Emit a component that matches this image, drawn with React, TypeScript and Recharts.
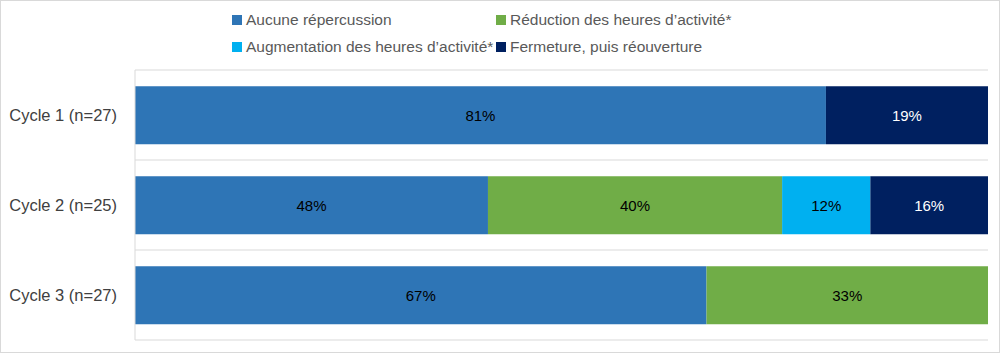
import { BarChart, Bar, XAxis, YAxis, CartesianGrid, LabelList } from 'recharts'

const cycles = ['Cycle 1 (n=27)', 'Cycle 2 (n=25)', 'Cycle 3 (n=27)']
const aucune = [81, 48, 67]
const reduction = [0, 40, 33]
const augmentation = [0, 12, 0]
const fermeture = [19, 16, 0]

const SERIES = [
  { key: 'aucune', name: 'Aucune répercussion', color: '#2E75B6', text: '#000000' },
  { key: 'reduction', name: 'Réduction des heures d’activité*', color: '#70AD47', text: '#000000' },
  { key: 'augmentation', name: 'Augmentation des heures d’activité*', color: '#00B0F0', text: '#000000' },
  { key: 'fermeture', name: 'Fermeture, puis réouverture', color: '#002060', text: '#ffffff' },
]

const data = cycles.map((cycle, i) => ({
  cycle,
  aucune: aucune[i],
  reduction: reduction[i],
  augmentation: augmentation[i],
  fermeture: fermeture[i],
}))

const FONT = '"Liberation Sans", Arial, sans-serif'

// legend laid out in two columns like the original
const legendPos = [
  { left: 232, top: 11 },
  { left: 496, top: 11 },
  { left: 232, top: 38 },
  { left: 496, top: 38 },
]

export default function App() {
  return (
    <div style={{ position: 'relative', width: 1000, height: 353, fontFamily: FONT }}>
      <style>{'body { margin: 0; }'}</style>
      <div
        style={{
          position: 'absolute', left: 0, top: 0, width: 998, height: 351,
          border: '1px solid #d9d9d9',
        }}
      />
      {SERIES.map((s, i) => (
        <div
          key={s.key}
          style={{
            position: 'absolute', left: legendPos[i].left, top: legendPos[i].top,
            display: 'flex', alignItems: 'center', fontSize: 15.5, color: '#595959',
            whiteSpace: 'nowrap',
          }}
        >
          <span style={{ width: 10, height: 10, background: s.color, marginRight: 4, display: 'inline-block' }} />
          {s.name}
        </div>
      ))}
      <div style={{ position: 'absolute', left: 0, top: 0 }}>
        <BarChart
          width={1000}
          height={353}
          data={data}
          layout="vertical"
          stackOffset="expand"
          barCategoryGap="18%"
          margin={{ top: 70, right: 12, bottom: 13, left: 0 }}
        >
          <CartesianGrid
            vertical={false}
            stroke="#e6e6e6"
            strokeWidth={1.5}
            horizontalCoordinatesGenerator={({ offset }: any) =>
              [0, 1, 2, 3].map((i) => offset.top + (i * offset.height) / 3)
            }
          />
          <XAxis type="number" hide domain={[0, 1]} />
          <YAxis
            type="category"
            dataKey="cycle"
            width={135}
            axisLine={{ stroke: '#d9d9d9' }}
            tickLine={false}
            tickSize={0}
            tickMargin={18}
            tick={{ fontSize: 16.5, fill: '#404040', fontFamily: FONT }}
          />
          {SERIES.map((s) => (
            <Bar key={s.key} dataKey={s.key} name={s.name} stackId="a" fill={s.color} isAnimationActive={false}>
              <LabelList
                dataKey={s.key}
                position="center"
                formatter={(v: any) => (v ? `${v}%` : '')}
                style={{ fill: s.text, fontSize: 15, fontFamily: FONT }}
              />
            </Bar>
          ))}
        </BarChart>
      </div>
    </div>
  )
}
